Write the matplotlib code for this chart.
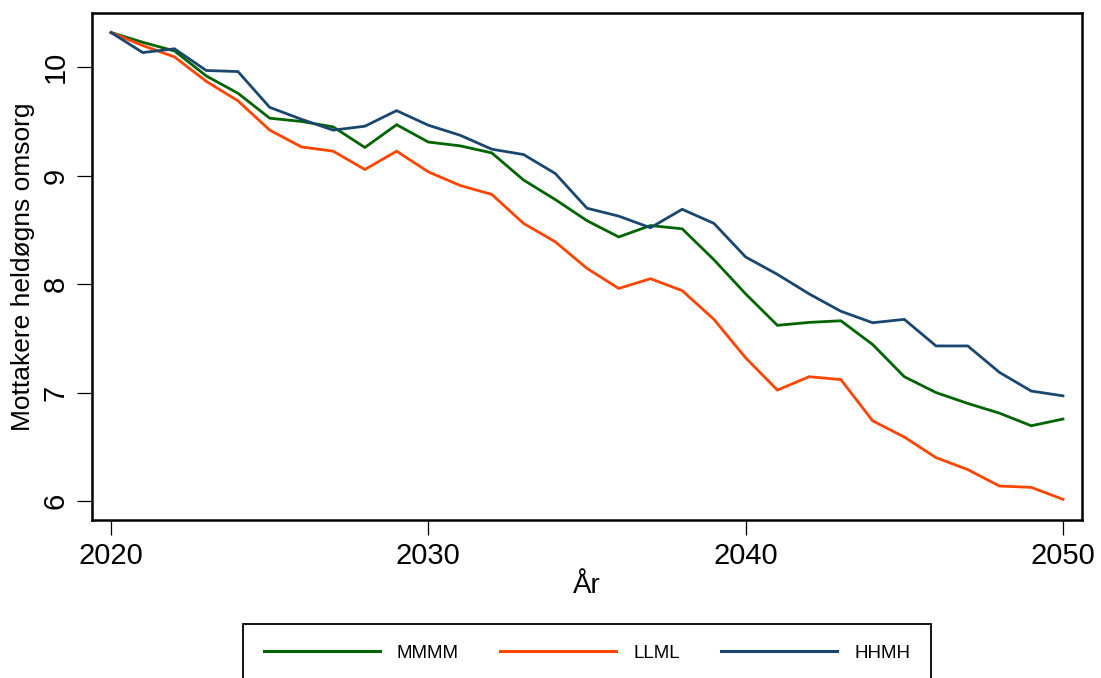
import matplotlib
matplotlib.use("Agg")
import matplotlib.pyplot as plt

plt.rcParams['font.family'] = ['Liberation Sans', 'DejaVu Sans']

years = list(range(2020, 2051))
mmmm = [10.32, 10.23, 10.15, 9.92, 9.76, 9.53, 9.50, 9.45, 9.26, 9.47,
        9.31, 9.275, 9.21, 8.96, 8.78, 8.585, 8.435, 8.54, 8.51, 8.225,
        7.91, 7.62, 7.647, 7.662, 7.444, 7.146, 7.0, 6.90, 6.81, 6.694, 6.756]
llml = [10.32, 10.20, 10.095, 9.87, 9.69, 9.42, 9.265, 9.226, 9.057, 9.226,
        9.035, 8.91, 8.827, 8.56, 8.39, 8.145, 7.96, 8.05, 7.94, 7.675,
        7.32, 7.023, 7.146, 7.12, 6.74, 6.59, 6.40, 6.29, 6.138, 6.126, 6.016]
hhmh = [10.32, 10.135, 10.17, 9.97, 9.96, 9.63, 9.52, 9.42, 9.456, 9.60,
        9.465, 9.373, 9.244, 9.195, 9.02, 8.70, 8.627, 8.52, 8.69, 8.56,
        8.25, 8.09, 7.91, 7.75, 7.644, 7.675, 7.43, 7.43, 7.186, 7.014, 6.97]

series_names = ["MMMM", "LLML", "HHMH"]
series_colors = ["#006400", "#FF4500", "#1A476F"]
xticks = [2020, 2030, 2040, 2050]
yticks = [6, 7, 8, 9, 10]

fig = plt.figure(figsize=(11.01, 6.78), dpi=100)
ax = fig.add_axes([92/1101, 1 - 520/678, (1082-92)/1101, (520-13)/678])

for vals, name, col in zip([mmmm, llml, hhmh], series_names, series_colors):
    ax.plot(years, vals, color=col, lw=2.0, label=name, solid_joinstyle='miter')

ax.set_xlim(2019.4, 2050.6)
ax.set_ylim(5.825, 10.50)
ax.set_xticks(xticks)
ax.set_yticks(yticks)
ax.set_xticklabels([str(t) for t in xticks], fontsize=21)
ax.set_yticklabels([str(t) for t in yticks], fontsize=21, rotation=90, va='center')
ax.tick_params(axis='both', direction='out', length=11, width=0.9, pad=5)
for sp in ax.spines.values():
    sp.set_linewidth(1.8)

ax.set_xlabel("År", fontsize=20, labelpad=2)
ax.set_ylabel("Mottakere heldøgns omsorg", fontsize=19, labelpad=5)

leg = fig.legend(loc='upper center', bbox_to_anchor=(587/1101, 1 - 624/678),
                 ncol=3, fontsize=13.5, frameon=True, fancybox=False,
                 edgecolor='black', framealpha=1.0, handlelength=6.2,
                 handletextpad=0.9, columnspacing=2.2, borderpad=1.1,
                 borderaxespad=0)
leg.get_frame().set_linewidth(1.3)
for line in leg.get_lines():
    line.set_linewidth(2.2)

fig.savefig("out.png", dpi=100)
